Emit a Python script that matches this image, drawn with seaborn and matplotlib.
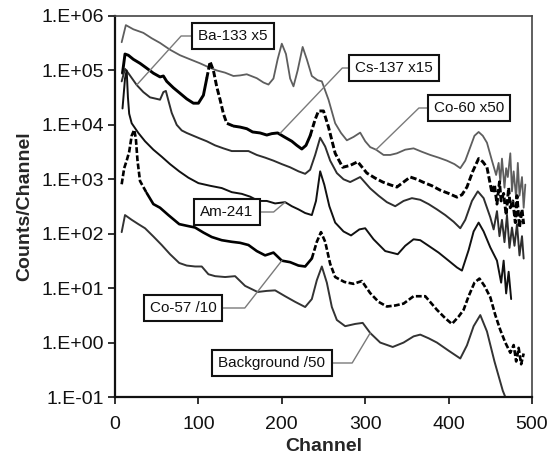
import numpy as np
import pandas as pd
import matplotlib
matplotlib.use("Agg")
import matplotlib.pyplot as plt
import seaborn as sns
from matplotlib.ticker import FixedLocator, FuncFormatter, NullLocator

sns.set_style("ticks")
plt.rcParams["font.family"] = ["Liberation Sans", "DejaVu Sans"]

# ---- spectra (channel, counts per channel) ----
co60_ch = [8, 13, 22, 34, 44, 54, 66, 78, 90, 102, 112, 122, 132, 142, 150, 158, 170, 178, 184,
           190, 195, 200, 205, 210, 214, 219, 225, 230, 236, 243, 248, 256, 264, 271, 278, 286,
           294, 300, 306, 313, 322, 330, 338, 348, 358, 368, 378, 388, 398, 407, 414, 420, 426,
           431, 436, 441, 446, 452, 457, 460, 462, 464, 467, 469, 471, 474, 476, 478, 481, 483,
           485, 488, 490, 492]
co60_counts = [3.3e5, 6.8e5, 5.7e5, 4.9e5, 3.9e5, 3.2e5, 2.4e5, 1.9e5, 1.6e5, 1.35e5, 1.15e5,
               1.0e5, 9.1e4, 7.9e4, 8.1e4, 8.5e4, 7.2e4, 6.0e4, 5.5e4, 7.1e4, 1.6e5, 3.1e5, 2.0e5,
               7.1e4, 5.1e4, 1.0e5, 2.7e5, 1.6e5, 7.9e4, 6.6e4, 6.3e4, 2.9e4, 1.07e4, 7.1e3, 5.2e3,
               6.0e3, 7.2e3, 5.0e3, 3.9e3, 3.5e3, 2.8e3, 2.8e3, 3.0e3, 3.5e3, 3.7e3, 3.2e3, 2.8e3,
               2.5e3, 2.2e3, 1.9e3, 1.6e3, 2.2e3, 3.9e3, 6.3e3, 7.4e3, 6.3e3, 4.7e3, 2.2e3, 1.2e3,
               2.0e3, 9.0e2, 2.4e3, 7.0e2, 1.6e3, 1.1e3, 3.0e3, 6.0e2, 1.4e3, 4.5e2, 2.0e3, 5.0e2,
               1.1e3, 3.0e2, 8.0e2]

cs137_ch = [9, 12, 16, 22, 30, 38, 46, 54, 58, 62, 70, 78, 86, 94, 100, 106, 110, 114, 118, 122,
            126, 130, 134, 142, 150, 158, 165, 174, 182, 188, 195, 203, 212, 218, 224, 229, 234,
            240, 244, 250, 256, 264, 273, 282, 291, 302, 312, 321, 330, 338, 346, 354, 362, 369,
            380, 390, 400, 410, 416, 422, 429, 436, 441, 446, 452, 455, 458, 461, 463, 466, 469,
            472, 474, 477, 480, 482, 485, 488, 490]
cs137_counts = [8.9e4, 2.0e5, 1.9e5, 1.6e5, 1.35e5, 1.1e5, 8.9e4, 7.6e4, 7.9e4, 6.3e4, 4.8e4,
                3.8e4, 3.0e4, 2.5e4, 2.5e4, 3.5e4, 7.1e4, 1.45e5, 1.0e5, 5.0e4, 2.9e4, 1.6e4,
                1.07e4, 9.5e3, 9.1e3, 8.5e3, 7.4e3, 7.1e3, 6.5e3, 6.9e3, 7.1e3, 6.0e3, 5.0e3,
                4.2e3, 3.6e3, 4.2e3, 6.3e3, 1.26e4, 1.8e4, 1.8e4, 9.1e3, 3.0e3, 1.66e3, 1.8e3,
                2.1e3, 1.3e3, 1.05e3, 8.9e2, 7.9e2, 7.2e2, 8.9e2, 1.1e3, 1.0e3, 8.9e2, 7.6e2,
                6.3e2, 5.5e2, 4.7e2, 5.2e2, 7.2e2, 1.4e3, 2.4e3, 2.1e3, 1.66e3, 5.6e2, 8.0e2,
                3.5e2, 9.0e2, 4.0e2, 5.5e2, 2.2e2, 7.0e2, 3.0e2, 4.0e2, 1.6e2, 5.0e2, 1.3e2,
                2.8e2, 1.5e2]

ba133_ch = [8, 12, 16, 26, 34, 42, 50, 54, 58, 61, 64, 68, 74, 80, 86, 94, 102, 110, 120, 130,
            140, 150, 160, 170, 180, 190, 200, 210, 220, 228, 234, 240, 246, 252, 258, 266, 274,
            282, 294, 306, 316, 326, 336, 346, 356, 366, 376, 386, 396, 406, 414, 420, 428, 435,
            442, 450, 454, 458, 461, 464, 467, 470, 473, 476, 479, 482, 485, 488, 490]
ba133_counts = [6.3e4, 1.07e5, 8.9e4, 5.4e4, 4.0e4, 3.2e4, 3.0e4, 2.9e4, 4.0e4, 4.2e4, 2.8e4,
                1.66e4, 1.0e4, 7.9e3, 7.1e3, 6.3e3, 5.6e3, 5.0e3, 4.2e3, 3.7e3, 3.3e3, 3.3e3,
                3.3e3, 2.8e3, 2.5e3, 2.2e3, 1.9e3, 1.66e3, 1.4e3, 1.26e3, 1.5e3, 2.8e3, 5.8e3,
                4.0e3, 2.2e3, 1.3e3, 1.0e3, 8.9e2, 1.1e3, 6.8e2, 5.0e2, 3.8e2, 3.2e2, 4.0e2,
                4.5e2, 4.2e2, 3.5e2, 2.8e2, 2.2e2, 1.66e2, 1.26e2, 1.8e2, 4.0e2, 6.0e2, 4.5e2,
                2.0e2, 1.2e2, 2.6e2, 9.0e1, 1.8e2, 7.0e1, 2.2e2, 5.5e1, 1.3e2, 6.0e1, 1.5e2,
                4.0e1, 9.0e1, 3.5e1]

am241_ch = [9, 12, 14, 15.5, 17, 20, 28, 36, 46, 56, 66, 77, 88, 100, 114, 128, 140, 152, 162,
            172, 182, 192, 204, 212, 220, 228, 236, 241, 246, 251, 257, 264, 274, 283, 293, 300,
            310, 324, 339, 348, 358, 366, 376, 388, 400, 410, 416, 424, 430, 436, 442, 450, 458,
            463, 466, 469, 472, 475]
am241_counts = [2.0e4, 7.1e4, 1.0e5, 3.2e4, 1.6e4, 1.07e4, 7.1e3, 5.0e3, 3.5e3, 2.6e3, 1.9e3,
                1.4e3, 1.07e3, 8.5e2, 7.6e2, 6.9e2, 5.8e2, 5.4e2, 4.8e2, 4.0e2, 4.0e2, 3.6e2,
                3.8e2, 3.2e2, 2.8e2, 2.4e2, 2.2e2, 4.0e2, 1.4e3, 7.9e2, 3.2e2, 1.6e2, 1.1e2,
                9.3e1, 1.2e2, 1.26e2, 7.9e1, 4.8e1, 4.2e1, 6.0e1, 7.9e1, 7.6e1, 6.0e1, 4.5e1,
                3.2e1, 2.4e1, 2.1e1, 5.0e1, 1.1e2, 1.6e2, 1.1e2, 5.6e1, 3.2e1, 1.26e1, 3.2e1,
                8.0, 2.0e1, 6.3]

co57_ch = [8, 11, 14, 17, 20, 23, 25, 27, 30, 38, 46, 54, 64, 77, 86, 96, 106, 116, 128, 140,
           150, 160, 170, 180, 190, 200, 210, 220, 228, 236, 242, 247, 252, 258, 264, 275, 286,
           296, 306, 316, 326, 336, 346, 358, 372, 386, 396, 404, 412, 418, 424, 431, 437, 443,
           450, 456, 462, 468, 474, 478, 481, 484, 487, 490]
co57_counts = [8.1e2, 1.6e3, 2.2e3, 3.2e3, 6.3e3, 8.1e3, 5.6e3, 2.2e3, 9.3e2, 5.6e2, 3.5e2,
               3.0e2, 2.2e2, 1.5e2, 1.4e2, 1.3e2, 1.05e2, 8.7e1, 7.6e1, 7.1e1, 6.8e1, 6.2e1,
               4.8e1, 4.0e1, 4.5e1, 3.2e1, 3.0e1, 2.6e1, 2.5e1, 3.5e1, 7.1e1, 1.07e2, 7.1e1,
               2.8e1, 1.6e1, 1.3e1, 1.2e1, 1.35e1, 8.1, 5.6, 4.6, 4.8, 5.2, 7.1, 7.1, 4.0, 2.8,
               2.2, 3.0, 4.0, 7.1, 12.6, 15.0, 11.0, 6.8, 3.2, 1.7, 1.0, 0.65, 0.9, 0.45, 0.8,
               0.4, 0.63]

bkg_ch = [8, 12, 20, 28, 36, 46, 56, 66, 77, 86, 96, 104, 112, 120, 132, 144, 156, 171, 182,
          192, 204, 216, 228, 236, 242, 248, 254, 260, 266, 276, 288, 297, 306, 318, 333, 346,
          358, 366, 376, 386, 400, 414, 422, 430, 438, 446, 455, 465, 468]
bkg_counts = [1.07e2, 2.2e2, 1.8e2, 1.5e2, 1.26e2, 8.9e1, 6.2e1, 4.2e1, 2.9e1, 2.6e1, 2.5e1,
              2.5e1, 1.8e1, 1.66e1, 1.6e1, 1.66e1, 1.1e1, 8.5, 8.9, 9.1, 7.1, 5.6, 4.5, 6.3,
              14.0, 25.0, 12.6, 4.5, 2.6, 2.0, 2.2, 2.3, 1.5, 1.0, 0.83, 1.0, 1.3, 1.4, 1.2, 1.0,
              0.71, 0.51, 0.89, 2.0, 3.2, 1.6, 0.45, 0.13, 0.1]

# The marker-drawn spectra break up into dots where they climb or fall steeply:
# channel ranges drawn broken, the rest solid.
cs137_broken = [(110, 134), (234, 490)]
co57_broken = [(8, 30), (236, 490)]

spectra = [
    ("Co-60 x50", co60_ch, co60_counts, dict(color="#5e5e5e", linewidth=1.3), []),
    ("Cs-137 x15", cs137_ch, cs137_counts, dict(color="#000000", linewidth=2.1), cs137_broken),
    ("Ba-133 x5", ba133_ch, ba133_counts, dict(color="#2e2e2e", linewidth=1.4), []),
    ("Am-241", am241_ch, am241_counts, dict(color="#111111", linewidth=1.4), []),
    ("Co-57 /10", co57_ch, co57_counts, dict(color="#000000", linewidth=1.9), co57_broken),
    ("Background /50", bkg_ch, bkg_counts, dict(color="#333333", linewidth=1.4), []),
]

df = pd.concat(
    [pd.DataFrame({"Channel": ch, "Counts": ct, "Spectrum": name})
     for name, ch, ct, _, _ in spectra],
    ignore_index=True,
)

W, H = 554, 459
fig = plt.figure(figsize=(W / 100, H / 100), dpi=100)
ax = fig.add_axes([115 / W, 1 - 397 / H, (532 - 115) / W, (397 - 16) / H])


def pieces(chan, broken):
    """Runs of consecutive points sharing one style; each run reaches the next run's first point."""
    flags = [any(a <= c <= b for a, b in broken) for c in chan]
    runs, start = [], 0
    for i in range(1, len(chan)):
        if flags[i] != flags[start]:
            runs.append((start, i, flags[start]))
            start = i
    runs.append((start, len(chan) - 1, flags[start]))
    return runs


for name, _, _, style, broken in spectra:
    sub = df[df["Spectrum"] == name].reset_index(drop=True)
    if not broken:
        sns.lineplot(data=sub, x="Channel", y="Counts", ax=ax, sort=False,
                     estimator=None, legend=False, **style)
        continue
    for lo, hi, is_broken in pieces(sub["Channel"].tolist(), broken):
        part = sub.iloc[lo:hi + 1]
        if len(part) < 2:
            continue
        extra = dict(dashes=(2.2, 0.9)) if is_broken else {}
        sns.lineplot(data=part, x="Channel", y="Counts", ax=ax, sort=False,
                     estimator=None, legend=False, **style, **extra)

ax.set_yscale("log")
ax.set_xlim(0, 500)
ax.set_ylim(0.1, 1e6)

yticks = [1e-1, 1e0, 1e1, 1e2, 1e3, 1e4, 1e5, 1e6]
ax.yaxis.set_major_locator(FixedLocator(yticks))
ax.yaxis.set_minor_locator(NullLocator())
ax.yaxis.set_major_formatter(FuncFormatter(lambda v, _: "1.E%+03d" % int(round(np.log10(v)))))
ax.set_xticks([0, 100, 200, 300, 400, 500])

ax.tick_params(axis="both", direction="out", length=5, width=1.3, labelsize=14,
               color="#222222", labelcolor="#111111")
ax.tick_params(axis="x", pad=9)
ax.tick_params(axis="y", pad=3)
for side in ["left", "bottom"]:
    ax.spines[side].set_linewidth(1.6)
    ax.spines[side].set_color("#111111")
for side in ["top", "right"]:
    ax.spines[side].set_visible(True)
    ax.spines[side].set_linewidth(1.2)
    ax.spines[side].set_color("#444444")

ax.set_xlabel("Channel", fontsize=14, fontweight="bold", labelpad=3)
ax.set_ylabel("Counts/Channel", fontsize=14, fontweight="bold", labelpad=6)

# callout boxes: (text, pointed channel, pointed counts, box centre in figure px, connector angles)
callouts = [
    ("Ba-133 x5", 26, 5.4e4, (233, 36), 0, 47.8),
    ("Cs-137 x15", 198, 7.0e3, (394, 68), 0, 46.4),
    ("Co-60 x50", 313, 3.5e3, (469, 108), 0, 44.2),
    ("Am-241", 204, 3.8e2, (227, 212), 0, -139.4),
    ("Co-57 /10", 200, 3.2e1, (183, 308), 0, -128.0),
    ("Background /50", 306, 1.5, (272, 363), 0, -121.0),
]
for text, cx, cy, (bx, by), aA, aB in callouts:
    ax.annotate(
        text, xy=(cx, cy), xycoords="data",
        xytext=(bx / W, 1 - by / H), textcoords="figure fraction",
        ha="center", va="center", fontsize=11, color="#111111",
        bbox=dict(boxstyle="square,pad=0.4", fc="white", ec="#111111", lw=1.5),
        arrowprops=dict(arrowstyle="-", color="#7a7a7a", lw=1.0, shrinkA=0, shrinkB=0,
                        connectionstyle="angle,angleA=%g,angleB=%g,rad=0" % (aA, aB)),
    )

fig.savefig("out.png", dpi=100)
